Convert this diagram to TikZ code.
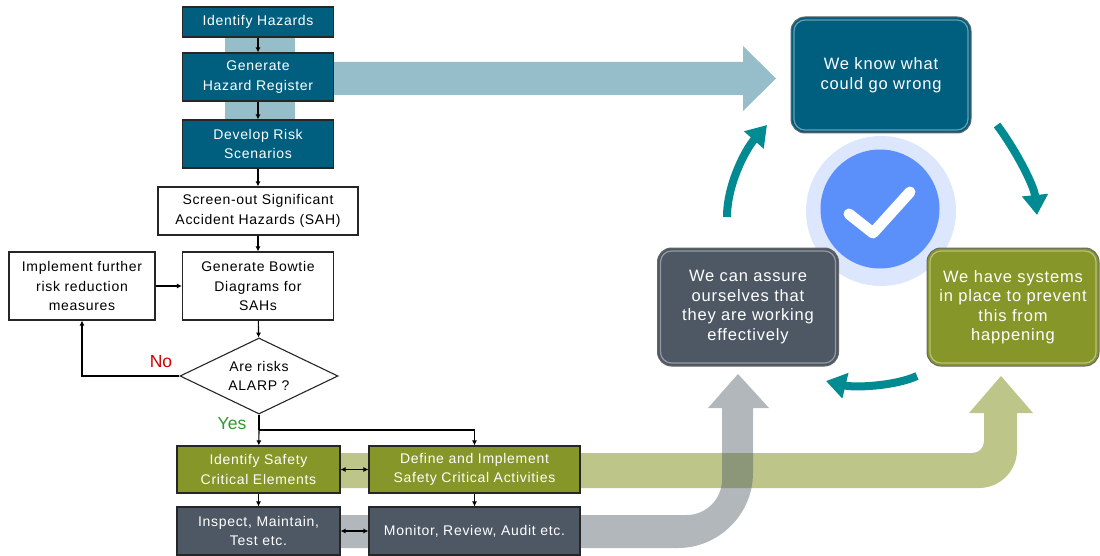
\documentclass[tikz,border=0pt]{standalone}
\usepackage{fontspec}
\usepackage{xcolor}
\usetikzlibrary{shapes.geometric,arrows.meta}
\setmainfont{Liberation Sans}
\newfontfamily\flowfont[LetterSpace=5]{Liberation Sans}

\definecolor{hazblue}{HTML}{005E7E}
\definecolor{sceolive}{HTML}{879628}
\definecolor{slate}{HTML}{4D5864}
\definecolor{cycleteal}{HTML}{008B92}
\definecolor{tickblue}{HTML}{5B8FF9}
\definecolor{tickhalo}{HTML}{DCE7FD}
\definecolor{nored}{HTML}{D00000}
\definecolor{yesgreen}{HTML}{2E9A2E}

\begin{document}
\begin{tikzpicture}[x=1pt,y=-1pt,
    flow/.style={draw=black!85, line width=1.1pt, inner sep=1pt, align=center,
      font=\flowfont\fontsize{14}{19.5}\selectfont},
    bluebox/.style={flow, fill=hazblue, text=white},
    olivebox/.style={flow, fill=sceolive, text=white},
    slatebox/.style={flow, fill=slate, text=white},
    whitebox/.style={flow, fill=white},
    decision/.style={flow, fill=white, diamond, aspect=2.08, inner sep=0pt,
      minimum width=158pt, minimum height=76pt},
    link/.style={line width=1.1pt, -{Latex[length=5pt,width=5pt]}},
    twoway/.style={line width=1.1pt, {Latex[length=5pt,width=5pt]}-{Latex[length=5pt,width=5pt]}},
    cyclebox/.style={draw=black!60, line width=1pt, rounded corners=14pt, fill=#1,
      text=white, align=center, inner sep=2pt,
      font=\flowfont\fontsize{16.5}{19.5}\selectfont,
      path picture={\draw[white, opacity=.4, line width=1.2pt, rounded corners=11pt]
        ([shift={(3pt,-3pt)}]path picture bounding box.north west) rectangle
        ([shift={(-3pt,3pt)}]path picture bounding box.south east);}},
    cyclearrow/.style={cycleteal, line width=8pt, -{Triangle[length=20pt,width=25pt]}},
  ]
  \useasboundingbox (0,0) rectangle (1100,556);

  % wide background arrows
  \fill[hazblue, opacity=.41] (225,30) rectangle (295,130);
  \fill[hazblue, opacity=.41] (300,62) -- (743,62) -- (743,46) -- (776,78.5)
    -- (743,111) -- (743,95) -- (300,95) -- cycle;
  \fill[sceolive, opacity=.55] (300,453) -- (972,453) .. controls (979,453) and (984,448) .. (984,441)
    -- (984,413) -- (969,413) -- (1001,376) -- (1033,413) -- (1017,413) -- (1017,450)
    .. controls (1017,471) and (1000,488) .. (979,488) -- (300,488) -- cycle;
  \fill[slate, opacity=.43] (300,515) -- (687,515) .. controls (706,515) and (722,499) .. (722,480)
    -- (722,408) -- (708,408) -- (738,374) -- (769,408) -- (753,408) -- (753,473)
    .. controls (753,514) and (719,548) .. (678,548) -- (300,548) -- cycle;

  % flowchart
  \node[bluebox, minimum width=151pt, minimum height=30pt] (ih) at (258,22) {Identify Hazards};
  \node[bluebox, minimum width=151pt, minimum height=48pt] (ghr) at (258,77) {Generate\\Hazard Register};
  \node[bluebox, minimum width=151pt, minimum height=48pt] (drs) at (258,144) {Develop Risk\\Scenarios};
  \node[whitebox, minimum width=200pt, minimum height=48pt] (sah) at (258,211) {Screen-out Significant\\Accident Hazards (SAH)};
  \node[whitebox, minimum width=151pt, minimum height=68pt] (bowtie) at (258,286) {Generate Bowtie\\Diagrams for\\SAHs};
  \node[whitebox, minimum width=146pt, minimum height=68pt] (further) at (82,286) {Implement further\\risk reduction\\measures};
  \node[decision] (alarp) at (259,376) {Are risks\\ALARP ?};
  \node[olivebox, minimum width=163pt, minimum height=47pt] (ise) at (258.5,469.5) {Identify Safety\\Critical Elements};
  \node[olivebox, minimum width=211pt, minimum height=47pt] (dsca) at (474.5,469.5) {Define and Implement\\Safety Critical Activities};
  \node[slatebox, minimum width=163pt, minimum height=48pt] (imt) at (258.5,531) {Inspect, Maintain,\\Test etc.};
  \node[slatebox, minimum width=211pt, minimum height=48pt] (mra) at (474.5,531) {Monitor, Review, Audit etc.};
  \node[text=nored, font=\fontsize{17.5}{20}\selectfont] (no) at (161,362) {No};
  \node[text=yesgreen, font=\fontsize{17.5}{20}\selectfont] (yes) at (232,424) {Yes};

  \draw[link] (ih) -- (ghr);
  \draw[link] (ghr) -- (drs);
  \draw[link] (drs) -- (sah);
  \draw[link] (sah) -- (bowtie);
  \draw[link] (bowtie) -- (alarp);
  \draw[link] (alarp.west) -| (further.south);
  \draw[link] (further) -- (bowtie);
  \coordinate (split) at (alarp.south |- 0,430);
  \draw[line width=1.1pt] (alarp.south) -- (split);
  \draw[link] (split) -- (ise);
  \draw[link] (split) -| (dsca.north);
  \draw[twoway] (ise) -- (dsca);
  \draw[link] (ise) -- (imt);
  \draw[link] (dsca) -- (mra);
  \draw[twoway] (imt) -- (mra);

  % assurance cycle
  \node[circle, fill=tickhalo, minimum size=150pt] (halo) at (881,211) {};
  \node[circle, fill=tickblue, minimum size=119pt] (tick) at (880,209) {};
  \draw[white, line width=11pt, line cap=round, line join=round] (849,214) -- (873,233) -- (910,192);
  \node[cyclebox=hazblue, minimum width=180pt, minimum height=116pt] (know) at (881,75) {We know what\\could go wrong};
  \node[cyclebox=sceolive, minimum width=172pt, minimum height=118pt] (systems) at (1013,307) {We have systems\\in place to prevent\\this from\\happening};
  \node[cyclebox=slate, minimum width=181pt, minimum height=118pt] (assure) at (748,307) {We can assure\\ourselves that\\they are working\\effectively};
  \draw[cyclearrow] (997,125) .. controls (1015,149) and (1034,185) .. (1037,215);
  \draw[cyclearrow] (917,376) .. controls (895,386) and (855,388) .. (826,381);
  \draw[cyclearrow] (727,217) .. controls (727,185) and (745,150) .. (767,125);
\end{tikzpicture}
\end{document}
